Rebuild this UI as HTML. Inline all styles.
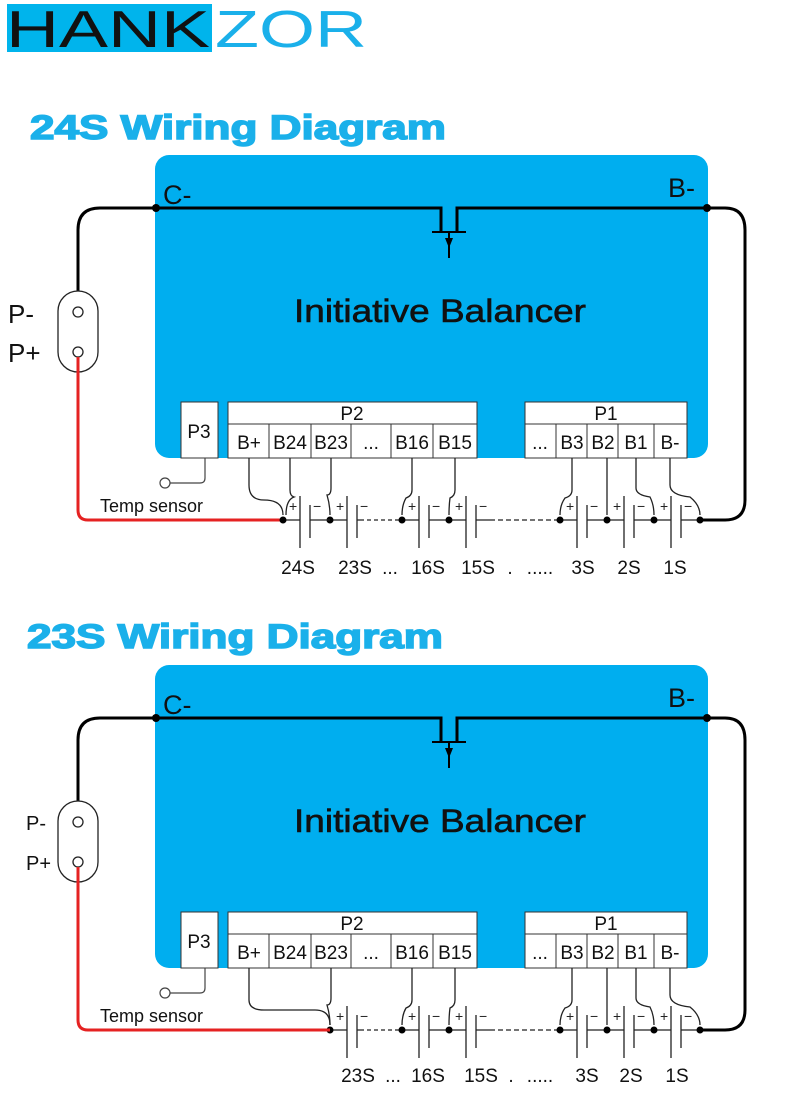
<!DOCTYPE html>
<html><head><meta charset="utf-8"><style>
body{margin:0;background:#fff}
svg{display:block}
text{font-family:"Liberation Sans",sans-serif}
</style></head><body>
<svg width="800" height="1104" viewBox="0 0 800 1104" xmlns="http://www.w3.org/2000/svg">
<defs>
<g id="box">
<rect x="155" y="155" width="553" height="303" rx="14" fill="#00aeef"/>
<text x="163" y="204" font-size="27" fill="#111">C-</text>
<text x="668" y="197" font-size="27" fill="#111">B-</text>
<text x="440" y="322" font-size="32" text-anchor="middle" fill="#111" textLength="292" lengthAdjust="spacingAndGlyphs" stroke="#111" stroke-width="0.6">Initiative Balancer</text>
<g fill="none" stroke="#000" stroke-width="3">
<path d="M156 208H441V232M457 232V208H707"/>
<path d="M156 208H100Q78 208 78 230V291"/>
<path d="M707 208H725Q745 208 745 230V500Q745 520 725 520H700"/>
</g>
<g stroke="#000" stroke-width="2" fill="none"><path d="M432 232H466M449 232V258"/></g>
<path d="M445 238L449 248L453 238Z" fill="#000"/>
<circle cx="156" cy="208" r="4" fill="#000"/><circle cx="707" cy="208" r="4" fill="#000"/>
<rect x="58" y="291" width="40" height="81" rx="20" fill="#fff" stroke="#222" stroke-width="1.3"/>
<circle cx="78" cy="312" r="5" fill="#fff" stroke="#222" stroke-width="1.3"/>
<circle cx="78" cy="352" r="5" fill="#fff" stroke="#222" stroke-width="1.3"/>
<g fill="#fff" stroke="#333" stroke-width="1">
<rect x="181" y="402" width="37" height="56"/>
<rect x="228" y="402" width="249" height="22"/>
<rect x="228" y="424" width="249" height="34"/>
<path d="M269 424V458M311 424V458M351 424V458M391 424V458M433 424V458"/>
<rect x="525" y="402" width="162" height="22"/>
<rect x="525" y="424" width="162" height="34"/>
<path d="M556 424V458M587 424V458M618 424V458M654 424V458"/>
</g>
<g font-size="19" fill="#111" text-anchor="middle" font-family="DejaVu Sans Condensed, Liberation Sans, sans-serif">
<text x="199" y="438">P3</text>
<text x="352" y="420">P2</text><text x="606" y="420">P1</text>
<text x="249" y="449">B+</text><text x="290" y="449">B24</text><text x="331" y="449">B23</text>
<text x="371" y="449">...</text><text x="412" y="449">B16</text><text x="455" y="449">B15</text>
<text x="540" y="449">...</text><text x="572" y="449">B3</text><text x="603" y="449">B2</text>
<text x="636" y="449">B1</text><text x="670" y="449">B-</text>
</g>
<g fill="none" stroke="#444" stroke-width="1.2">
<path d="M205 458V478Q205 483 200 483H170"/>
<circle cx="165" cy="483" r="5"/>
</g>
<text x="100" y="512" font-size="18" fill="#111">Temp sensor</text>
<g stroke="#222" stroke-width="1.3" fill="none">
<path d="M330 520H347M347 496V548M357 505V538M357 520H360"/>
<path d="M360 520H402" stroke-dasharray="4 3"/>
<path d="M402 520H419M419 496V548M429 505V538M429 520H449M449 520H466M466 496V548M476 505V538M476 520H490"/>
<path d="M490 520H560" stroke-dasharray="5 3"/>
<path d="M560 520H577M577 496V548M587 505V538M587 520H607M607 520H624M624 496V548M634 505V538M634 520H654M654 520H671M671 496V548M681 505V538M681 520H700"/>
<path d="M331 458V488Q331 495 327 495Q330 505 330 515M412 458V490Q412 496 406 498Q402 505 402 515M455 458V490Q455 496 450 498Q449 505 449 515M572 458V490Q572 496 565 498Q560 505 560 515M607 458V515M636 458V488Q636 495 650 497Q654 505 654 515M670 458V485Q670 495 690 497Q700 505 700 515"/>
</g>
<g fill="#000"><circle cx="330" cy="520" r="3.5"/><circle cx="402" cy="520" r="3.5"/><circle cx="449" cy="520" r="3.5"/><circle cx="560" cy="520" r="3.5"/><circle cx="607" cy="520" r="3.5"/><circle cx="654" cy="520" r="3.5"/><circle cx="700" cy="520" r="3.5"/></g>
<g font-size="14" fill="#222"><text x="336" y="511">+</text><text x="360" y="511">−</text><text x="408" y="511">+</text><text x="432" y="511">−</text><text x="455" y="511">+</text><text x="479" y="511">−</text><text x="566" y="511">+</text><text x="590" y="511">−</text><text x="613" y="511">+</text><text x="637" y="511">−</text><text x="660" y="511">+</text><text x="684" y="511">−</text></g>
</g>
</defs>

<rect x="7" y="4" width="205" height="48" fill="#00b4ec"/>
<text x="6" y="47" font-size="52" fill="#111" textLength="204" lengthAdjust="spacingAndGlyphs">HANK</text>
<text x="215" y="47" font-size="52" fill="#1ab0ea" textLength="152" lengthAdjust="spacingAndGlyphs">ZOR</text>

<text x="30" y="139" font-size="34" font-weight="bold" fill="#1ab0ea" stroke="#1ab0ea" stroke-width="1.5" textLength="416" lengthAdjust="spacingAndGlyphs">24S Wiring Diagram</text>
<text x="27" y="648" font-size="34" font-weight="bold" fill="#1ab0ea" stroke="#1ab0ea" stroke-width="1.5" textLength="416" lengthAdjust="spacingAndGlyphs">23S Wiring Diagram</text>

<!-- diagram 1 -->
<use href="#box"/>
<text x="8" y="323" font-size="26" fill="#111">P-</text>
<text x="8" y="362" font-size="26" fill="#111">P+</text>
<path d="M78 357V510Q78 520 88 520H283" stroke="#e52222" stroke-width="3" fill="none"/>
<g stroke="#222" stroke-width="1.3" fill="none">
<path d="M283 520H300M300 496V548M310 505V538M310 520H330"/>
<path d="M249 458V485Q249 500 264 500Q283 500 283 515M290 458V490Q290 496 294 497Q286 500 286 515"/>
</g>
<circle cx="283" cy="520" r="3.5" fill="#000"/>
<g font-size="14" fill="#222"><text x="289" y="511">+</text><text x="313" y="511">−</text></g>
<g font-size="19" fill="#111" text-anchor="middle">
<text x="298" y="574">24S</text><text x="355" y="574">23S</text><text x="390" y="574">...</text><text x="428" y="574">16S</text><text x="478" y="574">15S</text><text x="510" y="574">.</text><text x="540" y="574">.....</text><text x="583" y="574">3S</text><text x="629" y="574">2S</text><text x="675" y="574">1S</text>
</g>

<!-- diagram 2 -->
<g transform="translate(0,510)">
<use href="#box"/>
<path d="M78 357V510Q78 520 88 520H330" stroke="#e52222" stroke-width="3" fill="none"/>
<path d="M249 458V490Q249 500 264 500H315Q330 500 330 515" stroke="#222" stroke-width="1.3" fill="none"/>
<g font-size="19" fill="#111" text-anchor="middle">
<text x="358" y="572">23S</text><text x="393" y="572">...</text><text x="428" y="572">16S</text><text x="481" y="572">15S</text><text x="511" y="572">.</text><text x="540" y="572">.....</text><text x="587" y="572">3S</text><text x="631" y="572">2S</text><text x="677" y="572">1S</text>
</g>
</g>
<rect x="0" y="805" width="54" height="70" fill="#fff"/>
<text x="26" y="830" font-size="20" fill="#111">P-</text>
<text x="26" y="870" font-size="20" fill="#111">P+</text>
</svg>
</body></html>
